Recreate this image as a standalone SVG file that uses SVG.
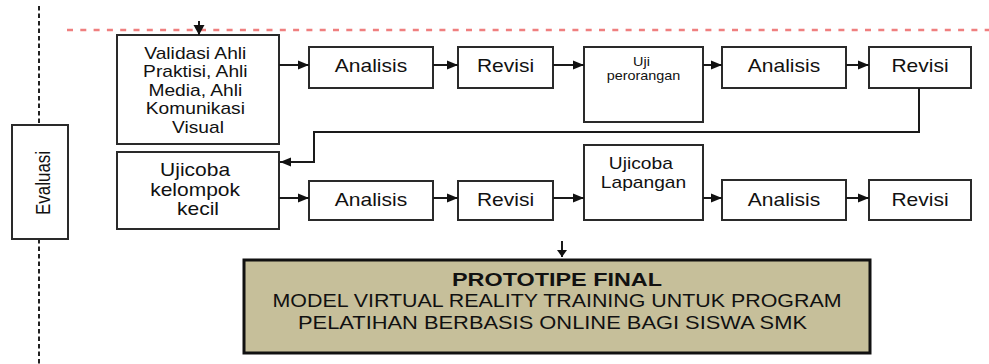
<svg xmlns="http://www.w3.org/2000/svg" width="989" height="364" viewBox="0 0 989 364">
  <defs>
    <marker id="ah" markerUnits="userSpaceOnUse" markerWidth="11" markerHeight="9" refX="11" refY="4.5" orient="auto" overflow="visible">
      <path d="M0,0 L11,4.5 L0,9 Z" fill="#111"/>
    </marker>
    <marker id="av" markerUnits="userSpaceOnUse" markerWidth="7" markerHeight="10" refX="7" refY="5" orient="auto" overflow="visible">
      <path d="M0,0 L7,5 L0,10 Z" fill="#111"/>
    </marker>
    <marker id="avb" markerUnits="userSpaceOnUse" markerWidth="10" markerHeight="11" refX="10" refY="5.5" orient="auto" overflow="visible">
      <path d="M0,0 L10,5.5 L0,11 Z" fill="#111"/>
    </marker>
    <style>
      .box { fill: #fff; stroke: #2a2a2a; stroke-width: 2; }
      .lbl { font-family: "Liberation Sans", Arial, sans-serif; fill: #111; text-anchor: middle; }
      .big { font-size: 17.5px; }
      .mid { font-size: 16px; }
      .sml { font-size: 12px; }
      .conn { fill: none; stroke: #1a1a1a; stroke-width: 2; }
      .arr { marker-end: url(#ah); }
      .arrv { marker-end: url(#av); }
    </style>
  </defs>

  <!-- phase guides -->
  <g id="guides">
    <line x1="39" y1="6" x2="39" y2="125" stroke="#222" stroke-width="2" stroke-dasharray="4.5 3"/>
    <line x1="39" y1="239" x2="39" y2="364" stroke="#222" stroke-width="2" stroke-dasharray="4.5 3"/>
    <line x1="67" y1="30" x2="989" y2="30" stroke="#ef7f7f" stroke-width="2.5" stroke-dasharray="6 7.3"/>
  </g>

  <g id="evaluasi">
    <rect class="box" x="12" y="125" width="56" height="114"/>
    <text class="lbl" font-size="17" transform="translate(50 183) rotate(-90) scale(1 1.2)" x="0" y="0">Evaluasi</text>
  </g>

  <!-- row 1 -->
  <g id="validasi">
    <rect class="box" x="117" y="35" width="162" height="109"/>
    <text class="lbl mid" transform="translate(198 0) scale(1.2 1)">
      <tspan x="0" y="59">Validasi Ahli</tspan>
      <tspan x="0" y="77.5">Praktisi, Ahli</tspan>
      <tspan x="0" y="96">Media, Ahli</tspan>
      <tspan x="0" y="114.5">Komunikasi</tspan>
      <tspan x="0" y="133">Visual</tspan>
    </text>
  </g>
  <g id="analisis1">
    <rect class="box" x="309" y="47" width="124" height="41"/>
    <text class="lbl big" transform="translate(371 72) scale(1.2 1)">Analisis</text>
  </g>
  <g id="revisi1">
    <rect class="box" x="458" y="47" width="95" height="41"/>
    <text class="lbl big" transform="translate(505.5 72) scale(1.2 1)">Revisi</text>
  </g>
  <g id="uji-perorangan">
    <rect class="box" x="584" y="47" width="119" height="75"/>
    <text class="lbl sml" transform="translate(643.5 0) scale(1.2 1)">
      <tspan x="0" y="66">Uji</tspan>
      <tspan x="0" y="80">perorangan</tspan>
    </text>
  </g>
  <g id="analisis2">
    <rect class="box" x="722" y="47" width="124" height="41"/>
    <text class="lbl big" transform="translate(784 72) scale(1.2 1)">Analisis</text>
  </g>
  <g id="revisi2">
    <rect class="box" x="869" y="47" width="102" height="41"/>
    <text class="lbl big" transform="translate(920 72) scale(1.2 1)">Revisi</text>
  </g>

  <!-- row 2 -->
  <g id="ujicoba-kelompok">
    <rect class="box" x="117" y="152" width="162" height="77"/>
    <text class="lbl big" transform="translate(198 0) scale(1.2 1)">
      <tspan x="0" y="176">Ujicoba</tspan>
      <tspan x="0" y="196">kelompok</tspan>
      <tspan x="0" y="215">kecil</tspan>
    </text>
  </g>
  <g id="analisis3">
    <rect class="box" x="309" y="181" width="124" height="39"/>
    <text class="lbl big" transform="translate(371 206) scale(1.2 1)">Analisis</text>
  </g>
  <g id="revisi3">
    <rect class="box" x="458" y="181" width="95" height="39"/>
    <text class="lbl big" transform="translate(505.5 206) scale(1.2 1)">Revisi</text>
  </g>
  <g id="ujicoba-lapangan">
    <rect class="box" x="584" y="145" width="119" height="75"/>
    <text class="lbl mid" transform="translate(643.5 0) scale(1.2 1)">
      <tspan x="0" y="169">Ujicoba</tspan>
      <tspan x="0" y="188">Lapangan</tspan>
    </text>
  </g>
  <g id="analisis4">
    <rect class="box" x="722" y="180" width="124" height="40"/>
    <text class="lbl big" transform="translate(784 206) scale(1.2 1)">Analisis</text>
  </g>
  <g id="revisi4">
    <rect class="box" x="869" y="180" width="102" height="40"/>
    <text class="lbl big" transform="translate(920 206) scale(1.2 1)">Revisi</text>
  </g>

  <g id="prototipe-final">
    <rect x="244" y="260" width="626" height="93" fill="#c6bf9a" stroke="#111" stroke-width="3"/>
    <text class="lbl" x="557" y="286" font-size="19" font-weight="bold" textLength="210" lengthAdjust="spacingAndGlyphs">PROTOTIPE FINAL</text>
    <text class="lbl" x="557" y="307" font-size="18" textLength="569" lengthAdjust="spacingAndGlyphs">MODEL VIRTUAL REALITY TRAINING UNTUK PROGRAM</text>
    <text class="lbl" x="552.5" y="329" font-size="18" textLength="509" lengthAdjust="spacingAndGlyphs">PELATIHAN BERBASIS ONLINE BAGI SISWA SMK</text>
  </g>

  <!-- connectors -->
  <g id="connectors">
    <path class="conn" d="M199,21 V35" marker-end="url(#avb)"/>
    <path class="conn arr" d="M279,65 H309"/>
    <path class="conn arr" d="M433,65 H458"/>
    <path class="conn arr" d="M553,65 H584"/>
    <path class="conn arr" d="M703,65 H722"/>
    <path class="conn arr" d="M846,65 H869"/>
    <path class="conn arr" d="M919,88 V132 H314 V162 H280"/>
    <path class="conn arr" d="M279,198 H309"/>
    <path class="conn arr" d="M433,198 H458"/>
    <path class="conn arr" d="M553,198 H584"/>
    <path class="conn arr" d="M703,198 H722"/>
    <path class="conn arr" d="M846,198 H869"/>
    <path class="conn arrv" d="M562,241 V257"/>
  </g>
</svg>
